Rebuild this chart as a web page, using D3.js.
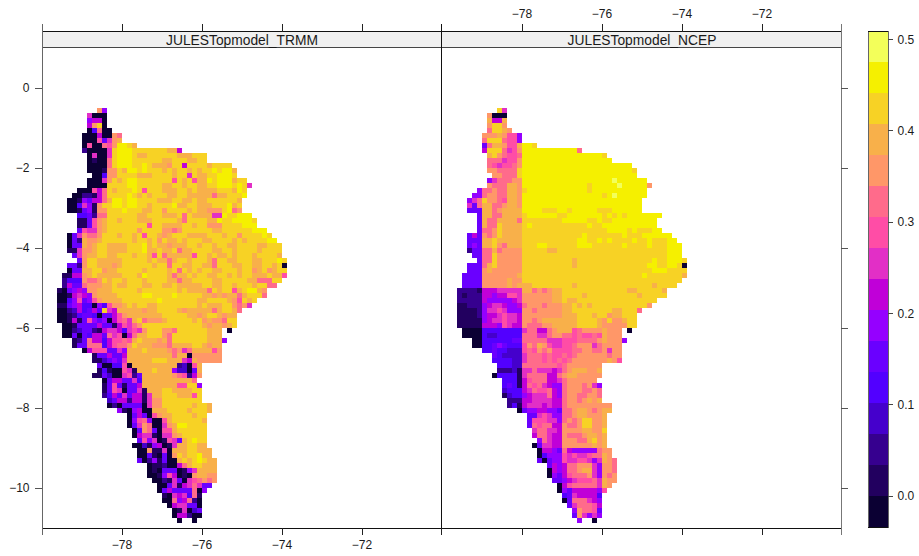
<!DOCTYPE html>
<html lang="en">
<head>
<meta charset="UTF-8">
<script src="https://d3js.org/d3.v7.min.js"></script>
<title>levelplot</title>
<style>
    body { margin: 0; background: white; }
    text { font-family: "Liberation Sans", Arial, sans-serif; font-size: 12px; fill: #1a1a1a; }
    .strip { font-size: 13.8px; }
</style>
</head>
<body>
<div id="chart"></div>
<script>

// one row per 0.125 degree of latitude, top to bottom: "first column:level of each cell"
// level letters are hex digits, an index into palette, '.' is no data
var trmmRows = [
"8:b6","6:8000","6:6770","6:7bd0","6:04a00","5:000700ba","5:000958bc","5:0900a9beedc",
"5:200008deeedddddddcc7","6:08008deeedccddddddcccddd","6:0100adeeeddddddccdddccdd",
"6:0000adeeeddedcccbdd7ddddcdddd","6:0001bbdceededddcdcddcdcddedeec","7:004bbddddcccddddcdd8dccddeeed",
"6:0008bdcdeeddddddd9dcd9ccedeeecdd","6:0000ddddeedddddccddcddccddeeeded8",
"4:00097adcddded9dddcccddcdccccdddced","3:002217addddedcdcdddccddcccccaccddde",
"2:0016577aceedeeddddcccddccdccddddddc","2:004861bddeedeeddcddddeccddcccdddecd",
"2:001561bbdddedddccddbddddcdccbbbdeab","4:4452aaddddddccdddcccdadcccc88eddeee",
"4:1159bcddcdddcccdddddcaddddcceddeeeed","4:1159bcdddddddd9ddccccddcddbbbddddeee",
"4:5988bcddddddbddddbbabddddddccddddddeee","2:058baabdddcddcd9ddcbcdddccccdddcddbdddded",
"2:052cbbcddddddcddcdbdccdcdddccddddcdcddddee","2:055cbcddccccdddecdccbcccddcddcddccddddccddd",
"2:118bbcddccccdddeccdccdaccddddccddcddddcdddd","3:58bccddccdddcddc9daccccc9ddcdccdcdddcddddc",
"4:5bddcccccdddddcdccacddcdddcaddccdddccddded","2:552bddcccbcddddddcddaddccddccadddccddccddcd0",
"2:055ccddbccdddddcddddcdadcdcddccdddcddbcdbcdd","1:1177bcdcccccdddceddddcaccdcddccddcdcddcccdcc9",
"1:2444baabdcddcdddcddddccaccddddccdddddccaaadd","1:2755abbbccdccdddccddccdcccccddccddcdddcddaa",
"0:105676bbcccdddddcdddddddcdccccadcdd9cdeecb","0:0017876bccccdddddeeddddedddddccbcbccacddda",
"0:00469569bccccdddddddedddddddccddddcb9dcd","0:11567440649bbcdcddccddddddddcdcccddbab8",
"0:002374575d87cccccbccddddcbcccccacddca","0:0012455405579bcccccccdddddccbcddcbcc",
"0:0017159656079a8cdabbbcdddddcdbcbbadd","1:00155557551798abddddddddddddcbccbcd",
"1:0023552178874898bdddbbaddddddccc.0","1:005054775a8907accdddbadddddddccc",
"3:125a774799a9cdcccbcadddddddccc6","3:155aaa479aabdcccbbbaccccddcbcc",
"5:079995586cccdccccbab8acccc9b","7:1557557cccccccccacc0bbbbbb",
"7:1135658cccccdddccc87cbbbbb","8:5004490ccccccccc2309c",
"8:14100981cccdccc63305c","7:1153008925ccccccba927b",
"9:05775584cccccccccca","9:15951557ccccccc99dd6",
"9:159805581cccddccccdd","9:2475857718ccdddccc9d",
"10:357727718bbdddddddd","10:020555508bbddddddcddc",
"12:6106700cccddddcdddc","14:057509bccddddcdd",
"14:069a6009cddddddc","14:058ba008bceedddd",
"15:05ba5099cdddddd","15:07881088bcddddd",
"16:596801985cdedd","15:003167018ccddcc",
"16:00b1180cccddccc","16:0051050bdcddecc",
"16:50261500cdcdedcc","18:0112007acddccc",
"18:0105550168cccc","18:001697010bccbb",
"19:002185089abab","20:0058178a855",
"20:0575555a06","21:108784a1",
"21:00a67a20","22:0788550",
"23:018035","23:077200",
"24:0..0"
];

var ncepRows = [
"8:d8","6:b000","6:c77c","6:bddb","6:addcb","5:bbbcb996","5:addda996","5:5accb99ceed",
"5:7ddda89beeeeeeeeeeea","6:cdba99aeeeeeeeeeeeeeeeed","6:aaa899beeeeeeeeeeeeeeeeee",
"6:a9899abeeeeeeeeeeeeeeeeeeeeee","6:bbaaaadeeeeeeeeeeeeeeeeeeeeeed","7:bbaaadeeeeeeeeeeeeeeeeeeeeeee",
"6:68aaabbeeeeeeeeeeeeeeeeeefeeeeee","6:baaaccbeeeeeeeeeeeeedeeeeefeeeeeb",
"4:6aabaaccbdeeeeeeeeeeeedeeeeeeeeeee","3:66abbaaccbeeeeeeeeeeeeeeeedefeeeeee",
"2:68adbba9ccbeeeeeeeeeeeeeeeeeeeeeeee","2:85accaabccbeeeeeeeeeeeeeeeeeeeeeeee",
"2:555ccabcccceeeedddeedeeeeedddeeeeee","4:5ccaaccccdeeeeeeddeeeeeeedededeeeeeee",
"4:5caaccccaddddddddeeeeeddeddeeeeeeeee","4:5caadccccdedddddddddddeddeeeeeeeeeee",
"4:5aabdccccdddddddddddddddddeeeededddee","2:575babdccccddddddddddddedddddddedddeeeeee",
"2:555ccdcccccdddddddddddeeddededdddeddedddee","2:565ccdbacccdddeeddddddeeeddddddeddddedddeee",
"2:255aacabbbbdddddccddddddddddddddddddddddeee","3:55aadbbbbbdddddddddddddddddddddddddddddeee",
"4:5aadbbbbbddddddddddcdddddddddddddddeddeeed","2:555acdbbbbbddddddddddcddddddddddddddeeddeed0",
"2:555bcbbbbbbddddddddddddddddddddddddddeeedddd","1:5555bbbbbbbcddddddddddddddddddddddddedddddddc",
"1:5555bbbbbcbbdddddddddddddddddddddddddddddddd","1:5555bbbbbcbcccddddddddcdddddddddddddddcdddd",
"0:2222177788888ccababccdddddddddddddccdddddc","0:2122277677998bbbbbbccddddcddddddddddcddddd",
"0:2222276666678bbbbbbccdccdddddddddddddddd","0:1122267887667abbbabbbccdcdcdddddddddddb",
"0:1111268898666bbabbbbbccddddddddccddda","0:1111267789887bbbbbbbbcccdddcddbccddd",
"0:1111167889887bbabcccccccddddcbdbbcdd","0:1111177769877baaabbcccccddddcbbbbbdd",
"1:0000444444448aa77abccc9abbbbcbbb.0","1:000043344444aaa88abbaa9a99a9cbbb",
"3:0044444455aaaaa888999aaaabcbbb6","3:00445654449bacb98899abbb8abbbb",
"5:445443339a9bab9999aabbaab8bb","7:5433338aaa9a99a9abbbbbbabb",
"7:4444338aaa9a9a9abbbbbbbcb9","8:44433aaaaaaa9abbbbbbb",
"8:2223188a88878abcccbbc","7:0444418aaaa77abccbbbbb",
"9:444179aaa778abbbbbb","9:45417a9a8766abbbab86",
"9:344478a99a76abbbaaba","9:134467888a76abbaabba",
"10:22277888877abbabcbc","10:24178887877abbbbbbbbb",
"12:056677665aabccbabcc","14:5589866aabccbbbc",
"14:5999886ababddbbc","14:5a9aa77baabddbbc",
"15:8aa887bbbbccbbd","15:7aa877baaabccbc",
"16:6a877bbbaacdbc","15:058877bbbbbbcbc",
"16:07765a766666abb","16:04666989889aacb",
"16:5056698899868cba","18:5767aabbb86bba",
"18:0767aabcc86bba","18:06579aaab86bab",
"19:55678999a8cbb","20:079aaaaa8cb",
"20:0657777769","21:45877774",
"21:05aaa876","22:58aaa97",
"23:6baa95","23:5b8686",
"24:6..0"
];

var palette = ["#0b0033","#22005f","#36008f","#4500cc","#5200ff","#6a00ff","#9500ff","#c000d8",
               "#e22fc6","#ff4da6","#ff6b8b","#ff9768","#f8b04a","#f7d225","#f5f000","#f3ff5a"];
var colorBreaks = [-0.0337, 0.509];
var xTicks = [-78, -76, -74, -72];
var yTicks = [0, -2, -4, -6, -8, -10];
var barTicks = [0, 0.1, 0.2, 0.3, 0.4, 0.5];
var panelNames = ["JULESTopmodel_TRMM", "JULESTopmodel_NCEP"];

var svg = d3.select("#chart").append("svg")
    .attr("width", 919)
    .attr("height", 556);

var y = d3.scaleLinear().domain([1, -11]).range([48, 528]);
var x1 = d3.scaleLinear().domain([-80, -70]).range([42, 442]);
var x2 = d3.scaleLinear().domain([-80, -70]).range([442, 842]);

var step = 0.125;
var lonStart = -79.625;
var latStart = -0.5;

function drawPanel(rows, x) {
    var g = svg.append("g").attr("shape-rendering", "crispEdges");
    rows.forEach(function(row, r) {
        var parts = row.split(":");
        var first = +parts[0];
        parts[1].split("").forEach(function(ch, i) {
            if (ch == ".") return;
            var lon = lonStart + (first + i) * step;
            var lat = latStart - r * step;
            g.append("rect")
                .attr("x", x(lon))
                .attr("y", y(lat))
                .attr("width", x(lon + step) - x(lon))
                .attr("height", y(lat - step) - y(lat))
                .attr("fill", palette[parseInt(ch, 16)]);
        });
    });
}

drawPanel(trmmRows, x1);
drawPanel(ncepRows, x2);

// strip backgrounds
[x1, x2].forEach(function(x) {
    svg.append("rect")
        .attr("x", x.range()[0]).attr("y", 32)
        .attr("width", 400).attr("height", 15)
        .attr("fill", "#f0f0f0");
});

// frame lines, the outer ones come out gray in the original
var frame = svg.append("g").attr("shape-rendering", "crispEdges");
frame.append("line").attr("x1", 42).attr("x2", 841).attr("y1", 31.5).attr("y2", 31.5).attr("stroke", "#111");
frame.append("line").attr("x1", 42).attr("x2", 841).attr("y1", 47.5).attr("y2", 47.5).attr("stroke", "#444");
frame.append("line").attr("x1", 42).attr("x2", 841).attr("y1", 528).attr("y2", 528).attr("stroke", "#111");
frame.append("line").attr("x1", 42).attr("x2", 42).attr("y1", 24).attr("y2", 535).attr("stroke", "#666");
frame.append("line").attr("x1", 441).attr("x2", 441).attr("y1", 24).attr("y2", 528).attr("stroke", "#111");
frame.append("line").attr("x1", 841).attr("x2", 841).attr("y1", 24).attr("y2", 535).attr("stroke", "#777");

// strip names go over the lines so the underscore stays visible
[x1, x2].forEach(function(x, i) {
    svg.append("text").attr("class", "strip")
        .attr("x", x.range()[0] + 200).attr("y", 44.5)
        .attr("text-anchor", "middle")
        .text(panelNames[i]);
});

// ticks, lattice style: labels alternate between the panels
var tickG = svg.append("g").attr("stroke", "#222").attr("shape-rendering", "crispEdges");
xTicks.forEach(function(d) {
    tickG.append("line").attr("x1", x1(d)).attr("x2", x1(d)).attr("y1", 528).attr("y2", 535);
    tickG.append("line").attr("x1", x2(d)).attr("x2", x2(d)).attr("y1", 528).attr("y2", 535);
    tickG.append("line").attr("x1", x1(d)).attr("x2", x1(d)).attr("y1", 24).attr("y2", 32);
    tickG.append("line").attr("x1", x2(d)).attr("x2", x2(d)).attr("y1", 24).attr("y2", 32);
    svg.append("text").attr("x", x1(d)).attr("y", 549)
        .attr("text-anchor", "middle").text(String(d).replace("-", "\u2212"));
    svg.append("text").attr("x", x2(d)).attr("y", 18)
        .attr("text-anchor", "middle").text(String(d).replace("-", "\u2212"));
});
tickG.append("line").attr("x1", 441).attr("x2", 441).attr("y1", 528).attr("y2", 535);
yTicks.forEach(function(d) {
    tickG.append("line").attr("x1", 35).attr("x2", 42).attr("y1", y(d)).attr("y2", y(d)).attr("stroke", "#555");
    tickG.append("line").attr("x1", 841).attr("x2", 848).attr("y1", y(d)).attr("y2", y(d)).attr("stroke", "#555");
    svg.append("text").attr("x", 29.5).attr("y", y(d) + 4.3)
        .attr("text-anchor", "end").text(String(d).replace("-", "\u2212"));
});

// colour key
var barScale = d3.scaleLinear().domain(colorBreaks).range([527, 31]);
var levelStep = (colorBreaks[1] - colorBreaks[0]) / palette.length;
var key = svg.append("g").attr("shape-rendering", "crispEdges");
palette.forEach(function(c, i) {
    var lo = colorBreaks[0] + i * levelStep;
    key.append("rect")
        .attr("x", 868).attr("width", 20)
        .attr("y", barScale(lo + levelStep))
        .attr("height", barScale(lo) - barScale(lo + levelStep))
        .attr("fill", c);
});
key.append("rect").attr("x", 868).attr("y", 31).attr("width", 20).attr("height", 496)
    .attr("fill", "none").attr("stroke", "#666");
key.append("line").attr("x1", 868).attr("x2", 888).attr("y1", 31).attr("y2", 31).attr("stroke", "#111");
key.append("line").attr("x1", 868).attr("x2", 888).attr("y1", 527).attr("y2", 527).attr("stroke", "#111");
barTicks.forEach(function(d) {
    key.append("line").attr("x1", 888).attr("x2", 893)
        .attr("y1", barScale(d)).attr("y2", barScale(d)).attr("stroke", "#444");
    svg.append("text").attr("x", 897.5).attr("y", barScale(d) + 4.3).text(d.toFixed(1));
});

</script>
</body>
</html>
